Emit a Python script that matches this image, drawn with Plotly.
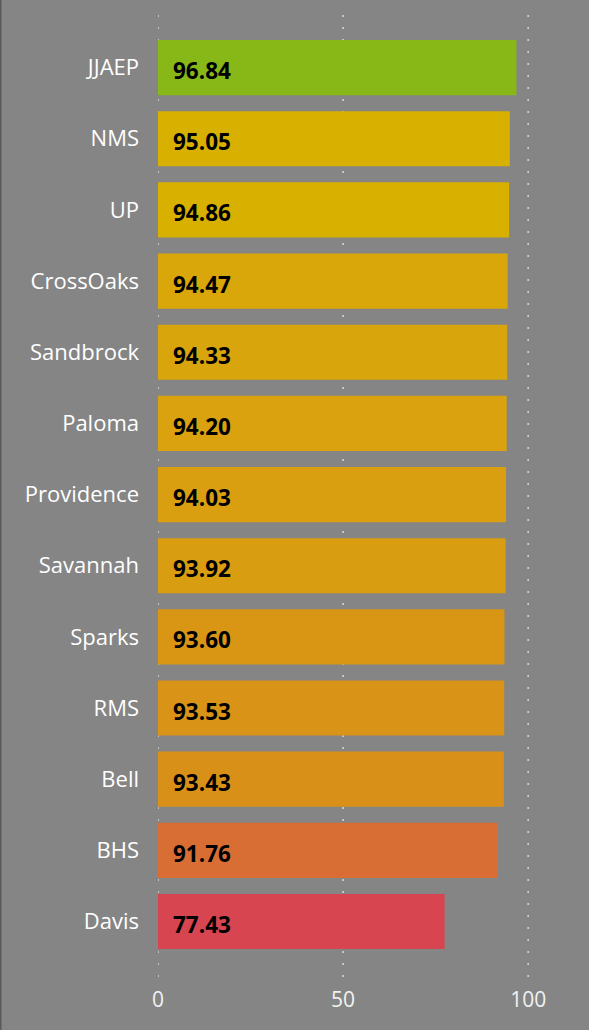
import plotly.graph_objects as go

categories = ["JJAEP", "NMS", "UP", "CrossOaks", "Sandbrock", "Paloma", "Providence",
              "Savannah", "Sparks", "RMS", "Bell", "BHS", "Davis"]
values = [96.84, 95.05, 94.86, 94.47, 94.33, 94.20, 94.03, 93.92, 93.60, 93.53, 93.43, 91.76, 77.43]
colors = ["#87b817", "#d8b000", "#d8b000", "#d9a70a", "#d9a50c", "#d9a20e", "#d99f10",
          "#d99d11", "#d99514", "#d99316", "#d99018", "#d96e35", "#d64550"]
tick_vals = [0, 50, 100]
tick_text = ["0", "50", "100"]

BG = "#858585"
W, H = 589, 1030
ML, MR, MT, MB = 158, 29, 10, 53
FONT = "Open Sans, Noto Sans, sans-serif"

fig = go.Figure()
fig.add_trace(go.Bar(
    y=categories, x=values, orientation="h",
    marker=dict(color=colors, line=dict(width=0)),
    hoverinfo="skip",
))

for c, v in zip(categories, values):
    fig.add_annotation(
        x=0, y=c, xref="x", yref="y", text=f"<b>{v:.2f}</b>",
        showarrow=False, xanchor="left", xshift=13, yshift=-3,
        font=dict(family=FONT, size=22.5, color="#000000"),
    )

# dotted vertical gridlines (incl. the one at 0)
for tv in tick_vals:
    fig.add_shape(type="line", xref="x", yref="paper", x0=tv, x1=tv, y0=0, y1=1,
                  layer="below", line=dict(color="#d6d6d6", width=1.5, dash="2px,10px"))

# left border line of the visual
plot_w = W - ML - MR
plot_h = H - MT - MB
fig.add_shape(type="line", xref="paper", yref="paper",
              x0=-ML / plot_w + 0.75 / plot_w, x1=-ML / plot_w + 0.75 / plot_w,
              y0=-MB / plot_h, y1=1 + MT / plot_h,
              line=dict(color="#5a5a5a", width=1.5))

fig.update_layout(
    width=W, height=H,
    margin=dict(l=ML, r=MR, t=MT, b=MB),
    paper_bgcolor=BG, plot_bgcolor=BG,
    bargap=0.225,
    showlegend=False,
    font=dict(family=FONT, color="#ffffff"),
    xaxis=dict(
        range=[0, 108.6],
        tickvals=tick_vals, ticktext=tick_text,
        showgrid=False, zeroline=False, showline=False,
        tickfont=dict(family=FONT, size=21, color="#f2f2f2"),
        ticks="", ticklabelstandoff=8,
    ),
    yaxis=dict(
        categoryorder="array", categoryarray=categories,
        autorange=False, range=[12.78, -0.81],
        showgrid=False, zeroline=False, showline=False,
        tickfont=dict(family=FONT, size=22, color="#ffffff"),
        ticks="", ticklabelstandoff=18,
    ),
)

fig.write_html("out.html", config={"displayModeBar": False},
               post_script="document.body.style.margin='0';document.body.style.background='%s';" % BG)
